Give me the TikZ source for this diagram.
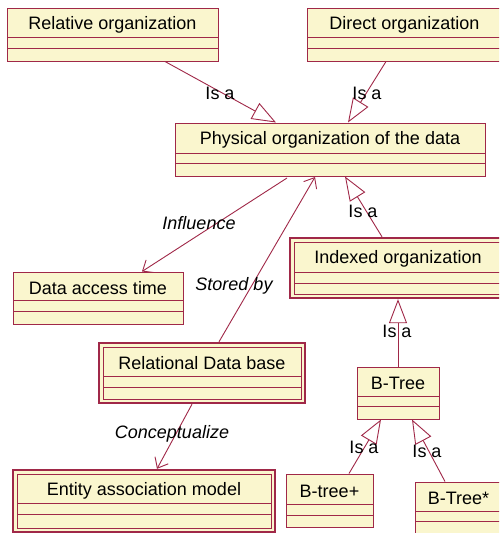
\documentclass[tikz,border=0pt]{standalone}
\usepackage{fontspec}
\setmainfont{Liberation Sans}
\usetikzlibrary{arrows.meta,positioning,fit}
\definecolor{umlfill}{RGB}{250,246,206}
\definecolor{umlline}{RGB}{160,40,72}
\tikzset{
  box/.style={draw=umlline, fill=umlfill, line width=1pt, inner sep=0pt},
  dbox/.style={draw=umlline, fill=umlfill, line width=2.4pt, inner sep=0pt},
  sep/.style={draw=umlline, line width=1pt},
  ttl/.style={font=\fontsize{18}{20}\selectfont, text=black, inner sep=0pt},
  lbl/.style={font=\fontsize{18}{20}\selectfont, text=black, inner sep=0pt},
  ilbl/.style={font=\fontsize{18}{20}\selectfont\itshape, text=black, inner sep=0pt},
  conn/.style={draw=umlline, line width=0.9pt},
  isa/.style={conn, -{Triangle[open, length=24pt, width=18pt, line width=0.9pt]}},
  dep/.style={conn, -{Straight Barb[length=9pt, width=15pt, line width=0.9pt]}},
}
% name, x1, y1, x2, y2, line1, line2, text
\newcommand{\umlclass}[8]{%
  \node[box, fit={(#2,#3)(#4,#5)}] (#1) {};
  \draw[sep] (#2,#6) -- (#4,#6);
  \draw[sep] (#2,#7) -- (#4,#7);
  \node[ttl] (#1-t) at ({(#2+#4)/2},{(#3+#6)/2+2}) {#8};
}
\newcommand{\umldclass}[8]{%
  \node[dbox, fit={(#2,#3)(#4,#5)}] (#1) {};
  \draw[sep] ({#2+4},{#3+4}) rectangle ({#4-4},{#5-4});
  \draw[sep] ({#2+4},#6) -- ({#4-4},#6);
  \draw[sep] ({#2+4},#7) -- ({#4-4},#7);
  \node[ttl] (#1-t) at ({(#2+#4)/2},{(#3+4+#6)/2+2}) {#8};
}
\begin{document}
\begin{tikzpicture}[x=1pt,y=-1pt]
\clip (0,0) rectangle (499,533);
\fill[white] (0,0) rectangle (499,533);

\umlclass{rel}{7}{8}{218}{61}{37}{48}{Relative organization}
\umlclass{dir}{307}{8}{502}{61}{37}{48}{Direct organization}
\umlclass{phy}{175}{123}{485}{176}{153}{163}{Physical organization of the data}
\umlclass{dat}{13}{272}{183}{324}{300}{311}{Data access time}
\umldclass{idx}{290}{238}{506}{298}{272}{283}{Indexed organization}
\umldclass{rdb}{99}{343}{305}{403}{376}{387}{Relational Data base}
\umldclass{ent}{13}{470}{275}{532}{503}{514}{Entity association model}
\umlclass{bt}{357}{367}{439}{419}{396}{406}{B-Tree}
\umlclass{btp}{286}{474}{373}{527}{504}{515}{B-tree+}
\umlclass{bts}{415}{482}{502}{545}{511}{521}{B-Tree*}

% generalisations
\draw[isa] (rel.south -| 165,0) -- (phy.north -| 276,0);
\draw[isa] (dir.south -| 386,0) -- (phy.north -| 348,0);
\draw[isa] (idx.north -| 382,0) -- (phy.south -| 345,0);
\draw[isa] (bt.north) -- (idx.south);
\draw[isa] (btp.north -| 349,0) -- (bt.south -| 381,0);
\draw[isa] (bts.north -| 445,0) -- (bt.south -| 412,0);

% dependencies
\draw[dep] (287,178) -- (dat.north -| 142,0);
\draw[dep] (rdb.north -| 219,0) -- (315,177);
\draw[dep] (rdb.south -| 192,0) -- (ent.north -| 157,0);

% labels
\node[lbl] (l1) at (220,93) {Is a};
\node[lbl] (l2) at (367,93) {Is a};
\node[lbl] (l3) at (363,211) {Is a};
\node[lbl] (l4) at (397,331) {Is a};
\node[lbl] (l5) at (364,447) {Is a};
\node[lbl] (l6) at (427,451) {Is a};
\node[ilbl] (l7) at (199,223) {Influence};
\node[ilbl] (l8) at (234,286) {Stored by};
\node[ilbl] (l9) at (172,434) {Conceptualize};
\end{tikzpicture}
\end{document}
